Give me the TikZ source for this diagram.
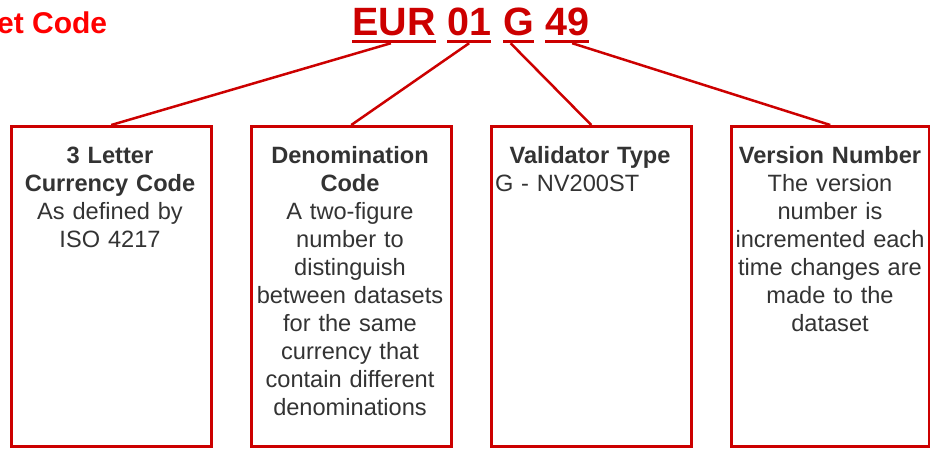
\documentclass[tikz,border=0pt]{standalone}
\usepackage{fontspec}
\setmainfont{Liberation Sans}
\definecolor{boxred}{HTML}{CC0000}
\definecolor{brightred}{HTML}{FF0000}
\definecolor{txtgray}{HTML}{333333}
\begin{document}
\begin{tikzpicture}[x=1pt,y=-1pt,
  codebox/.style={draw=boxred, line width=2.5pt, minimum width=200pt, minimum height=320pt, inner sep=0pt, anchor=north west},
  boxtext/.style={text=txtgray, font=\fontsize{23.6}{28}\selectfont, text width=196pt, align=center, inner sep=0pt, anchor=base},
  word/.style={text=boxred, font=\bfseries\fontsize{39.5}{44}\selectfont, inner sep=0pt, text depth=0pt, anchor=base west},
  link/.style={draw=boxred, line width=2.5pt},
  uline/.style={draw=boxred, line width=3pt}]
\useasboundingbox (0,0) rectangle (930,448);
\node[text=brightred, font=\bfseries\fontsize{30}{36}\selectfont, inner sep=0pt, anchor=base west] (setcode) at (-3,33) {et Code};
% title words
\node[word] (w1) at (352,35) {EUR};
\node[word] (w2) at (447,35) {01};
\node[word] (w3) at (503,35) {G};
\node[word] (w4) at (545,35) {49};
\foreach \w in {w1,w2,w3,w4}
  \draw[uline] ([yshift=-6.5pt]\w.south west) -- ([yshift=-6.5pt]\w.south east);
% boxes
\node[codebox] (b1) at (10,125) {};
\node[codebox] (b2) at (250,125) {};
\node[codebox] (b3) at (490,125) {};
\node[codebox, minimum width=198pt] (b4) at (730,125) {};
% texts
\node[boxtext] (t1) at (110,163) {\textbf{3 Letter}\\\textbf{Currency Code}\\As defined by\\ISO 4217};
\node[boxtext] (t2) at (350,163) {\textbf{Denomination}\\\textbf{Code}\\A two-figure\\number to\\distinguish\\between datasets\\for the same\\currency that\\contain different\\denominations};
\node[boxtext, text width=190pt] (t3) at (590,163) {\textbf{Validator Type}\\\makebox[190pt][l]{G - NV200ST}};
\node[boxtext] (t4) at (830,163) {\textbf{Version Number}\\The version\\number is\\incremented each\\time changes are\\made to the\\dataset};
% connectors
\draw[link] ([xshift=-3pt,yshift=-8pt]w1.south) -- (b1.north);
\draw[link] ([yshift=-8pt]w2.south) -- (b2.north);
\draw[link] ([xshift=-8pt,yshift=-8pt]w3.south) -- (b3.north);
\draw[link] ([xshift=5pt,yshift=-8pt]w4.south) -- (b4.north);
\end{tikzpicture}
\end{document}
